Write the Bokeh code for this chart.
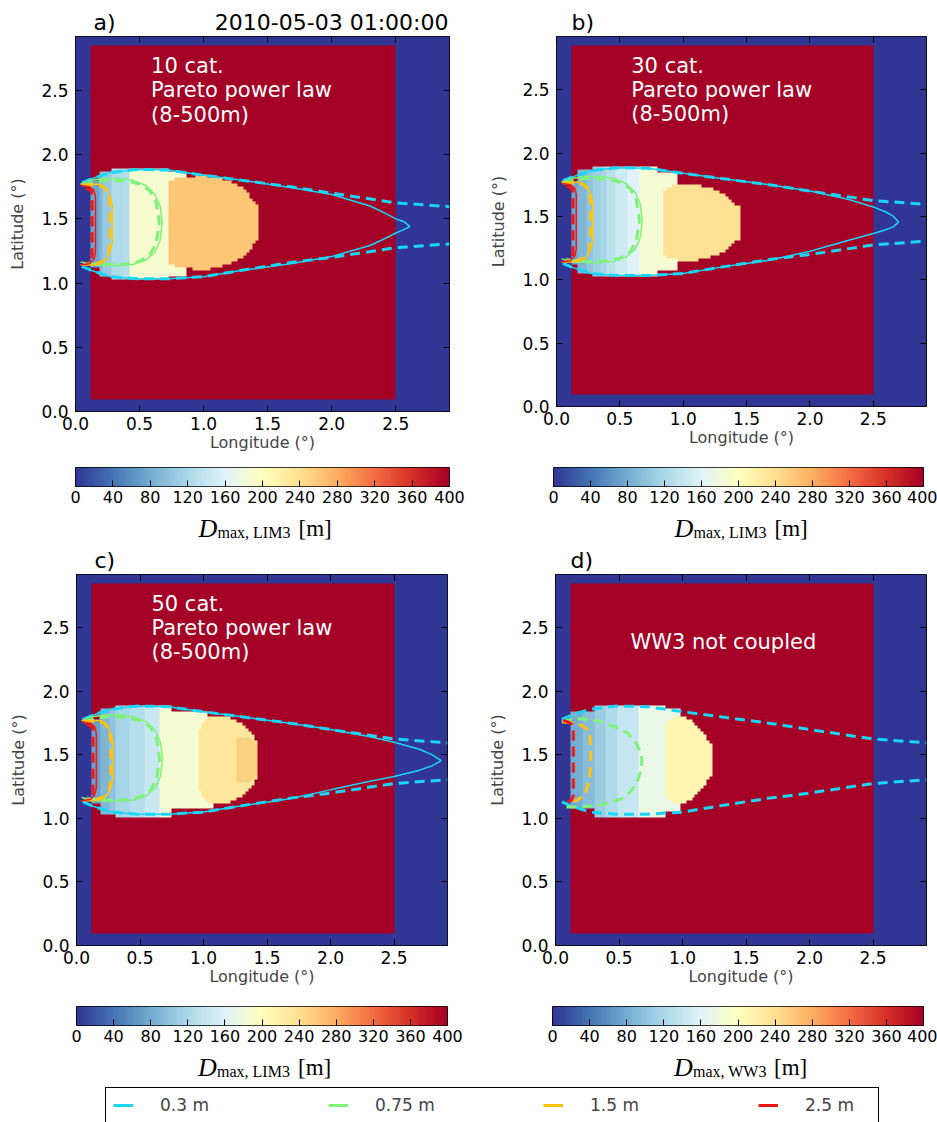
import numpy as np
from bokeh.plotting import figure
from bokeh.models import (LinearColorMapper, Label, LinearAxis, FixedTicker,
                          PrintfTickFormatter, CustomJSTickFormatter, Legend,
                          LegendItem, Range1d)
from bokeh.layouts import row, column
from bokeh.embed import file_html
from bokeh.resources import INLINE

# ---------------------------------------------------------------- data
LON_MAX = 2.92
LAT_MAX = 2.92
CELL = 2.92 / 125                      # model grid cell (deg)
ICE_LON = [0.12, 2.50]                 # ice covered box
ICE_LAT = [0.09, 2.86]
DMAX_ICE = 400                         # unbroken ice Dmax (m)
DMAX_OPEN = 0
DMAX_RANGE = [0, 400]
AXIS_TICKS = [0.0, 0.5, 1.0, 1.5, 2.0, 2.5]
CBAR_TICKS = [0, 40, 80, 120, 160, 200, 240, 280, 320, 360, 400]

DATE_TEXT = "2010-05-03 01:00:00"
PANEL_TAGS = ["a)", "b)", "c)", "d)"]
PANEL_NOTES = [["10 cat.", "Pareto power law", "(8-500m)"],
               ["30 cat.", "Pareto power law", "(8-500m)"],
               ["50 cat.", "Pareto power law", "(8-500m)"],
               ["WW3 not coupled"]]
CBAR_MODELS = ["LIM3", "LIM3", "LIM3", "WW3"]

HS_LABELS = ["0.3 m", "0.75 m", "1.5 m", "2.5 m"]

# broken-ice Dmax bands (lon edges, Dmax, lat top, lat bottom) per panel
A_EDGES = [0.12, 0.18, 0.22, 0.27, 0.38, 0.43, 0.72, 0.87]
A_DMAX = [76, 92, 106, 124, 128, 188, 188]
A_TOP = [1.79, 1.865, 1.87, 1.90, 1.90, 1.90, 1.865]
A_BOT = [1.12, 1.06, 1.045, 1.03, 1.03, 1.025, 1.05]
A_BLOB_LON = [0.72, 0.74, 0.80, 0.85, 0.95, 1.03, 1.12, 1.19, 1.25, 1.30, 1.35, 1.38, 1.41, 1.43]
A_BLOB_HALF = [0.30, 0.33, 0.345, 0.355, 0.365, 0.365, 0.35, 0.325, 0.30, 0.27, 0.22, 0.18, 0.14, 0.12]
A_BLOB_DMAX = 262

B_EDGES = [0.12, 0.174, 0.226, 0.279, 0.345, 0.397, 0.476, 0.555, 0.66, 0.80, 0.95]
B_DMAX = [76, 88, 100, 110, 118, 132, 146, 160, 186, 186]
B_TOP = [1.77, 1.875, 1.875, 1.90, 1.90, 1.90, 1.90, 1.90, 1.90, 1.85]
B_BOT = [1.11, 1.05, 1.05, 1.02, 1.02, 1.02, 1.02, 1.02, 1.02, 1.07]
B_BLOB_LON = [0.83, 0.86, 0.92, 1.00, 1.10, 1.20, 1.30, 1.36, 1.40, 1.44]
B_BLOB_HALF = [0.24, 0.27, 0.29, 0.30, 0.30, 0.28, 0.24, 0.20, 0.16, 0.13]
B_BLOB_DMAX = 238

C_EDGES = [0.123, 0.19, 0.268, 0.307, 0.425, 0.543, 0.66, 0.74, 1.03, 1.08]
C_DMAX = [72, 88, 100, 116, 128, 142, 186, 186, 186]
C_TOP = [1.77, 1.865, 1.865, 1.903, 1.903, 1.903, 1.903, 1.84, 1.80]
C_BOT = [1.115, 1.037, 1.037, 1.01, 1.01, 1.01, 1.01, 1.063, 1.08]
C_BLOB_LON = [0.963, 1.00, 1.05, 1.12, 1.20, 1.28, 1.34, 1.38, 1.41, 1.43]
C_BLOB_HALF = [0.24, 0.30, 0.335, 0.34, 0.33, 0.30, 0.25, 0.21, 0.16, 0.13]
C_BLOB_DMAX = 230
C_CORE_LON = [1.26, 1.30, 1.36, 1.40, 1.43]
C_CORE_HALF = [0.17, 0.18, 0.17, 0.15, 0.12]
C_CORE_DMAX = 250

D_EDGES = [0.128, 0.207, 0.30, 0.39, 0.483, 0.654, 0.864, 0.99]
D_DMAX = [80, 94, 108, 122, 140, 172, 172]
D_TOP = [1.84, 1.84, 1.903, 1.903, 1.903, 1.90, 1.86]
D_BOT = [1.063, 1.063, 1.01, 1.01, 1.01, 1.01, 1.04]
D_BLOB_LON = [0.864, 0.90, 0.95, 1.00, 1.07, 1.12, 1.17, 1.21, 1.23]
D_BLOB_HALF = [0.29, 0.32, 0.34, 0.34, 0.31, 0.26, 0.20, 0.15, 0.13]
D_BLOB_DMAX = 214

BLOB_LAT = [1.47, 1.45, 1.46, 1.46]    # blob centre latitude per panel

# significant wave height contours (lon, lat)
# WW3 0.3 m (all panels)
CY_WW3_UP_LON = [0.05, 0.12, 0.27, 0.48, 0.72, 1.00, 1.30, 1.68, 2.00, 2.50, 2.92]
CY_WW3_UP_LAT = [1.78, 1.81, 1.86, 1.885, 1.88, 1.84, 1.80, 1.75, 1.70, 1.625, 1.595]
CY_WW3_LO_LON = [0.05, 0.12, 0.27, 0.48, 0.72, 1.00, 1.30, 1.68, 2.00, 2.50, 2.92]
CY_WW3_LO_LAT = [1.13, 1.10, 1.05, 1.033, 1.033, 1.05, 1.10, 1.16, 1.20, 1.275, 1.305]
# LIM3 0.3 m (panels a, b, c)
CY_LIM3_A_LON = [0.05, 0.12, 0.27, 0.48, 0.72, 1.00, 1.30, 1.68, 2.00, 2.30, 2.45, 2.50, 2.57, 2.61,
                 2.55, 2.50, 2.45, 2.30, 2.00, 1.68, 1.30, 1.00, 0.72, 0.48, 0.27, 0.12, 0.05]
CY_LIM3_A_LAT = [1.78, 1.81, 1.86, 1.885, 1.88, 1.84, 1.80, 1.745, 1.69, 1.60, 1.527, 1.50, 1.475, 1.44,
                 1.41, 1.39, 1.363, 1.293, 1.207, 1.15, 1.10, 1.05, 1.033, 1.033, 1.05, 1.10, 1.13]
CY_LIM3_B_LON = [0.05, 0.12, 0.27, 0.48, 0.72, 1.00, 1.30, 1.68, 2.00, 2.30, 2.50, 2.60, 2.66, 2.70,
                 2.66, 2.60, 2.50, 2.30, 2.00, 1.68, 1.30, 1.00, 0.72, 0.48, 0.27, 0.12, 0.05]
CY_LIM3_B_LAT = [1.78, 1.81, 1.86, 1.885, 1.88, 1.84, 1.80, 1.75, 1.70, 1.635, 1.575, 1.535, 1.50, 1.455,
                 1.42, 1.395, 1.365, 1.31, 1.225, 1.155, 1.10, 1.05, 1.033, 1.033, 1.05, 1.10, 1.13]
CY_LIM3_C_LON = [0.05, 0.12, 0.27, 0.48, 0.72, 1.00, 1.30, 1.68, 2.00, 2.30, 2.50, 2.70, 2.80, 2.87,
                 2.80, 2.70, 2.50, 2.30, 2.00, 1.68, 1.30, 1.00, 0.72, 0.48, 0.27, 0.12, 0.05]
CY_LIM3_C_LAT = [1.78, 1.81, 1.86, 1.885, 1.88, 1.84, 1.80, 1.75, 1.70, 1.645, 1.60, 1.545, 1.50, 1.455,
                 1.415, 1.38, 1.33, 1.29, 1.225, 1.155, 1.10, 1.05, 1.033, 1.033, 1.05, 1.10, 1.13]
# 0.75 / 1.5 / 2.5 m, LIM3 (solid) and coupled WW3 (dashed), panels a-c
GR_LIM3_LON = [0.04, 0.12, 0.22, 0.35, 0.45, 0.55, 0.62, 0.66, 0.677, 0.66, 0.62, 0.55, 0.45, 0.30, 0.15, 0.04]
GR_LIM3_LAT = [1.77, 1.80, 1.815, 1.815, 1.80, 1.76, 1.69, 1.60, 1.47, 1.33, 1.24, 1.18, 1.145, 1.135, 1.14, 1.165]
GR_WW3_LON = [0.06, 0.15, 0.25, 0.40, 0.50, 0.58, 0.63, 0.655, 0.63, 0.58, 0.50, 0.40, 0.25, 0.12, 0.05]
GR_WW3_LAT = [1.76, 1.79, 1.80, 1.795, 1.77, 1.72, 1.63, 1.47, 1.31, 1.22, 1.17, 1.15, 1.145, 1.15, 1.17]
YE_LIM3_LON = [0.04, 0.12, 0.195, 0.245, 0.275, 0.287, 0.287, 0.275, 0.245, 0.195, 0.12, 0.04]
YE_LIM3_LAT = [1.77, 1.77, 1.77, 1.73, 1.66, 1.60, 1.32, 1.26, 1.19, 1.15, 1.14, 1.14]
YE_WW3_LON = [0.06, 0.15, 0.22, 0.26, 0.27, 0.27, 0.26, 0.22, 0.15, 0.06]
YE_WW3_LAT = [1.76, 1.765, 1.75, 1.69, 1.60, 1.32, 1.23, 1.17, 1.15, 1.15]
RE_LIM3_LON = [0.04, 0.11, 0.145, 0.156, 0.156, 0.145, 0.11, 0.04]
RE_LIM3_LAT = [1.76, 1.75, 1.72, 1.67, 1.24, 1.19, 1.15, 1.14]
RE_WW3_LON = [0.08, 0.125, 0.13, 0.13, 0.125, 0.08]
RE_WW3_LAT = [1.74, 1.72, 1.66, 1.22, 1.17, 1.15]
# uncoupled WW3, panel d
GR_D_LON = [0.05, 0.12, 0.207, 0.35, 0.47, 0.57, 0.63, 0.67, 0.68, 0.67, 0.64, 0.58, 0.52, 0.42, 0.33, 0.18, 0.08]
GR_D_LAT = [1.758, 1.78, 1.785, 1.765, 1.72, 1.67, 1.60, 1.52, 1.457, 1.37, 1.28, 1.20, 1.155, 1.12, 1.102, 1.089, 1.09]
YE_D_LON = [0.06, 0.10, 0.207, 0.25, 0.27, 0.278, 0.278, 0.27, 0.236, 0.17, 0.09]
YE_D_LAT = [1.76, 1.758, 1.732, 1.70, 1.653, 1.55, 1.457, 1.326, 1.195, 1.142, 1.13]
RE_D_LON = [0.06, 0.10, 0.13, 0.14, 0.14, 0.13, 0.10, 0.06]
RE_D_LAT = [1.77, 1.76, 1.74, 1.70, 1.18, 1.15, 1.13, 1.12]

# ---------------------------------------------------------------- style
HS_COLORS = ["#1ad6f5", "#7ff27a", "#ffc20e", "#f01616"]
RDYLBU = ['#313695', '#4575b4', '#74add1', '#abd9e9', '#e0f3f8', '#ffffbf',
          '#fee090', '#fdae61', '#f46d43', '#d73027', '#a50026']
FONT = "DejaVu Sans"
SERIF = "Liberation Serif"

# (frame_w, frame_h, border_left, border_right, border_top, border_bottom)
GEOMS = [(374, 375, 75, 37, 0, 48), (370, 370, 67, 14, 0, 53),
         (371, 371, 76, 38, 0, 48), (371, 371, 67, 14, 0, 48)]


def smooth_palette(anchors, n=256):
    rgb = np.array([[int(c[k:k + 2], 16) for k in (1, 3, 5)] for c in anchors], float)
    t = np.linspace(0, 1, len(anchors))
    out = []
    for s in np.linspace(0, 1, n):
        r, g, b = (int(round(np.interp(s, t, rgb[:, k]))) for k in range(3))
        out.append("#%02x%02x%02x" % (r, g, b))
    return out


MAPPER = LinearColorMapper(palette=smooth_palette(RDYLBU), low=DMAX_RANGE[0], high=DMAX_RANGE[1])


def dmax_field(edges, vals, tops, bots, blobs, centre):
    n = int(round(LON_MAX / CELL))
    c = (np.arange(n) + 0.5) * CELL
    lon, lat = np.meshgrid(c, c)
    f = np.full((n, n), float(DMAX_OPEN))
    ice = (lon > ICE_LON[0]) & (lon < ICE_LON[1]) & (lat > ICE_LAT[0]) & (lat < ICE_LAT[1])
    f[ice] = DMAX_ICE
    for i, v in enumerate(vals):
        m = ice & (lon >= edges[i]) & (lon < edges[i + 1]) & (lat >= bots[i]) & (lat <= tops[i])
        f[m] = v
    for blon, bhalf, bval in blobs:
        half = np.interp(lon, blon, bhalf)
        m = ice & (lon >= blon[0]) & (lon <= blon[-1]) & (np.abs(lat - centre) <= half)
        f[m] = bval
    return np.kron(f, np.ones((3, 3)))


def style_axis(ax, size):
    ax.major_tick_in = 6
    ax.major_tick_out = 0
    ax.minor_tick_in = 0
    ax.minor_tick_out = 0
    ax.axis_line_color = None
    ax.major_tick_line_color = "black"
    ax.major_label_text_font = FONT
    ax.major_label_text_font_size = size
    ax.major_label_text_color = "black"


def hidden_axis():
    ax = LinearAxis(ticker=FixedTicker(ticks=AXIS_TICKS),
                    formatter=CustomJSTickFormatter(code="return ''"))
    style_axis(ax, "0px")
    ax.major_label_text_color = None
    ax.major_label_standoff = 0
    return ax


def strip(width, height):
    """A blank figure whose frame is the whole canvas, used for text lines."""
    s = figure(width=width, height=height, x_range=Range1d(0, width), y_range=Range1d(0, height),
               x_axis_type=None, y_axis_type=None, min_border=0,
               output_backend="svg", toolbar_location=None)
    s.outline_line_color = None
    s.grid.visible = False
    return s


def make_panel(k, field, solid, dashed, geom):
    fw, fh, bl, br, bt, bb = geom
    p = figure(frame_width=fw, frame_height=fh,
               x_range=Range1d(0, LON_MAX), y_range=Range1d(0, LAT_MAX),
               min_border_left=bl, min_border_right=br, min_border_top=bt,
               min_border_bottom=bb, output_backend="svg", toolbar_location=None)
    p.grid.visible = False
    p.outline_line_color = "black"
    p.outline_line_alpha = 1
    p.outline_line_width = 1
    p.image(image=[field], x=0, y=0, dw=LON_MAX, dh=LAT_MAX, color_mapper=MAPPER)
    for lon, lat, col in dashed:
        p.line(lon, lat, line_color=col, line_width=3, line_dash="10 6")
    for lon, lat, col in solid:
        p.line(lon, lat, line_color=col, line_width=1.5)

    for ax, lab in ((p.xaxis[0], "Longitude (°)"), (p.yaxis[0], "Latitude (°)")):
        ax.ticker = FixedTicker(ticks=AXIS_TICKS)
        ax.formatter = PrintfTickFormatter(format="%.1f")
        style_axis(ax, "17px")
        ax.axis_label = lab
        ax.axis_label_text_font = FONT
        ax.axis_label_text_font_style = "normal"
        ax.axis_label_text_font_size = "16px"
    p.xaxis[0].major_label_standoff = 5
    p.xaxis[0].axis_label_standoff = 0
    p.yaxis[0].major_label_standoff = 7
    p.yaxis[0].axis_label_standoff = 11
    p.add_layout(hidden_axis(), "above")
    p.add_layout(hidden_axis(), "right")

    note = PANEL_NOTES[k]
    ys = [2.69, 2.50, 2.31] if len(note) == 3 else [2.386]
    for t, y in zip(note, ys):
        p.add_layout(Label(x=0.59, y=y, text=t, text_font=FONT, text_font_size="21px",
                           text_baseline="middle", text_color="white"))
    return p


def make_header(k, geom, height, text_y):
    fw, fh, bl, br, bt, bb = geom
    w = bl + fw + br
    h = strip(w, height)
    h.add_layout(Label(x=bl + 18, y=text_y, text=PANEL_TAGS[k], text_font=FONT,
                       text_font_size="22px", text_baseline="middle", text_color="black"))
    if k == 0:
        h.add_layout(Label(x=bl + fw - 1, y=text_y, text=DATE_TEXT, text_font=FONT,
                           text_font_size="22px", text_baseline="middle",
                           text_align="right", text_color="black"))
    return h


def make_cbar(k, geom, bt, bb):
    fw, fh, bl, br, _, _ = geom
    p = figure(frame_width=fw, frame_height=19, x_range=Range1d(*DMAX_RANGE),
               y_range=Range1d(0, 1), y_axis_type=None,
               min_border_left=bl, min_border_right=br, min_border_top=bt,
               min_border_bottom=bb, output_backend="svg", toolbar_location=None)
    p.grid.visible = False
    p.outline_line_color = "black"
    p.outline_line_alpha = 1
    p.outline_line_width = 1
    grad = np.linspace(DMAX_RANGE[0], DMAX_RANGE[1], 512)[None, :]
    p.image(image=[grad], x=DMAX_RANGE[0], y=0, dw=DMAX_RANGE[1] - DMAX_RANGE[0], dh=1,
            color_mapper=MAPPER)
    ax = p.xaxis[0]
    ax.ticker = FixedTicker(ticks=CBAR_TICKS)
    style_axis(ax, "16px")
    ax.major_label_standoff = 4
    return p


def make_cbar_label(k, geom, height, mid_y):
    fw, fh, bl, br, bt, bb = geom
    w = bl + fw + br
    s = strip(w, height)
    cx = bl + fw / 2.0
    s.add_layout(Label(x=cx - 64, y=mid_y, text="D", text_font=SERIF, text_font_style="italic",
                       text_font_size="26px", text_baseline="middle", text_color="black"))
    s.add_layout(Label(x=cx - 45, y=mid_y - 4, text="max, " + CBAR_MODELS[k], text_font=SERIF,
                       text_font_size="16px", text_baseline="middle", text_color="black"))
    s.add_layout(Label(x=cx + 36, y=mid_y, text="[m]", text_font=SERIF,
                       text_font_size="23px", text_baseline="middle", text_color="black"))
    return s


fields = [
    dmax_field(A_EDGES, A_DMAX, A_TOP, A_BOT, [(A_BLOB_LON, A_BLOB_HALF, A_BLOB_DMAX)], BLOB_LAT[0]),
    dmax_field(B_EDGES, B_DMAX, B_TOP, B_BOT, [(B_BLOB_LON, B_BLOB_HALF, B_BLOB_DMAX)], BLOB_LAT[1]),
    dmax_field(C_EDGES, C_DMAX, C_TOP, C_BOT, [(C_BLOB_LON, C_BLOB_HALF, C_BLOB_DMAX),
                                                (C_CORE_LON, C_CORE_HALF, C_CORE_DMAX)], BLOB_LAT[2]),
    dmax_field(D_EDGES, D_DMAX, D_TOP, D_BOT, [(D_BLOB_LON, D_BLOB_HALF, D_BLOB_DMAX)], BLOB_LAT[3]),
]

cy, gr, ye, re_ = HS_COLORS
ww3_coupled = [(CY_WW3_UP_LON, CY_WW3_UP_LAT, cy), (CY_WW3_LO_LON, CY_WW3_LO_LAT, cy),
               (GR_WW3_LON, GR_WW3_LAT, gr), (YE_WW3_LON, YE_WW3_LAT, ye),
               (RE_WW3_LON, RE_WW3_LAT, re_)]
ww3_alone = [(CY_WW3_UP_LON, CY_WW3_UP_LAT, cy), (CY_WW3_LO_LON, CY_WW3_LO_LAT, cy),
             (GR_D_LON, GR_D_LAT, gr), (YE_D_LON, YE_D_LAT, ye), (RE_D_LON, RE_D_LAT, re_)]
lim3_common = [(GR_LIM3_LON, GR_LIM3_LAT, gr), (YE_LIM3_LON, YE_LIM3_LAT, ye),
               (RE_LIM3_LON, RE_LIM3_LAT, re_)]
solids = [[(CY_LIM3_A_LON, CY_LIM3_A_LAT, cy)] + lim3_common,
          [(CY_LIM3_B_LON, CY_LIM3_B_LAT, cy)] + lim3_common,
          [(CY_LIM3_C_LON, CY_LIM3_C_LAT, cy)] + lim3_common,
          []]
dasheds = [ww3_coupled, ww3_coupled, ww3_coupled, ww3_alone]

panels = [make_panel(k, fields[k], solids[k], dasheds[k], GEOMS[k]) for k in range(4)]
headers = [make_header(0, GEOMS[0], 36, 14), make_header(1, GEOMS[1], 36, 14),
           make_header(2, GEOMS[2], 29, 14), make_header(3, GEOMS[3], 29, 14)]
cbars = [make_cbar(0, GEOMS[0], 8, 24), make_cbar(1, GEOMS[1], 8, 24),
         make_cbar(2, GEOMS[2], 13, 24), make_cbar(3, GEOMS[3], 13, 24)]
cblabels = [make_cbar_label(0, GEOMS[0], 35, 17), make_cbar_label(1, GEOMS[1], 35, 17),
            make_cbar_label(2, GEOMS[2], 36, 18), make_cbar_label(3, GEOMS[3], 36, 18)]

# legend strip
lg = strip(937, 37)
items = []
for lab, col in zip(HS_LABELS, HS_COLORS):
    r = lg.line([-20, -10], [-20, -10], line_color=col, line_width=3)
    items.append(LegendItem(label=lab, renderers=[r]))
leg = Legend(items=items, orientation="horizontal", location=(105, -1),
             glyph_width=20, glyph_height=18, label_height=18, label_width=66,
             label_standoff=27, spacing=102, padding=7, margin=0,
             label_text_font=FONT, label_text_font_size="17px",
             border_line_color="black", border_line_width=1, border_line_alpha=1,
             background_fill_color="white", background_fill_alpha=1)
lg.add_layout(leg)

layout = column(row(headers[0], headers[1]), row(panels[0], panels[1]),
                row(cbars[0], cbars[1]), row(cblabels[0], cblabels[1]),
                row(headers[2], headers[3]), row(panels[2], panels[3]),
                row(cbars[2], cbars[3]), row(cblabels[2], cblabels[3]), lg)

open("out.html", "w").write(file_html(layout, INLINE))
